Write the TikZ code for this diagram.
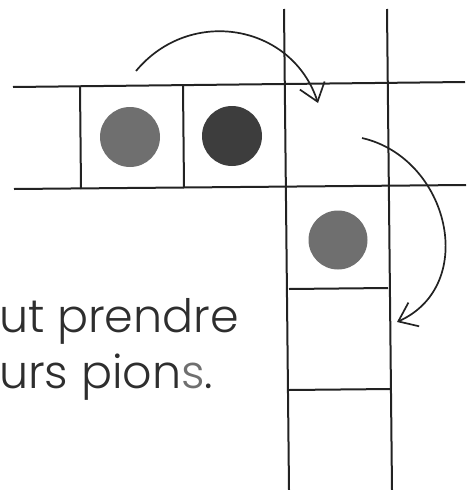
\documentclass[tikz,border=0pt]{standalone}
\usepackage{fontspec}
\setmainfont{Poppins}[UprightFont=* Light]
\usetikzlibrary{arrows.meta}
\definecolor{ink}{HTML}{222222}
\definecolor{pionA}{HTML}{6F6F6F}
\definecolor{pionB}{HTML}{3D3D3D}
\definecolor{txt}{HTML}{2E2E2E}
\begin{document}
\begin{tikzpicture}[x=1pt,y=-1pt,
  grid/.style={draw=ink,line width=2pt},
  pion/.style={circle,inner sep=0pt,minimum size=60pt},
  move/.style={draw=ink,line width=1.7pt,-{Straight Barb[length=17pt,width=26pt,line width=1.7pt]}},
  label/.style={anchor=base west,inner sep=0pt,text=txt,font=\fontsize{46}{50}\selectfont}]
\useasboundingbox (0,0) rectangle (467,490);
% grid
\draw[grid] (13,87) -- (465,82);
\draw[grid] (14,189) -- (466,185);
\draw[grid] (80,86) -- (81,189);
\draw[grid] (183,86) -- (184,188);
\draw[grid] (284,9) -- (289,490);
\draw[grid] (387,9) -- (392,490);
\draw[grid] (289,289) -- (388,288);
\draw[grid] (289,390) -- (391,389);
% pions
\node[pion,fill=pionA] (p1) at (130,137) {};
\node[pion,fill=pionB] (p2) at (232,136) {};
\node[pion,fill=pionA,minimum size=59pt] (p3) at (338,240) {};
% moves
\coordinate (a1) at (136,71);
\coordinate (b1) at (318,103);
\coordinate (a2) at (362,138);
\coordinate (b2) at (397,322);
\draw[move] (a1) .. controls (190,6) and (292,24) .. (b1);
\draw[move] (a2) .. controls (449,158) and (479,285) .. (b2);
% text
\node[label] (t1) at (-1,332) {ut prendre};
\node[label] (t2) at (-1,388) {urs pion\textcolor{pionA}{s}.};
\end{tikzpicture}
\end{document}
